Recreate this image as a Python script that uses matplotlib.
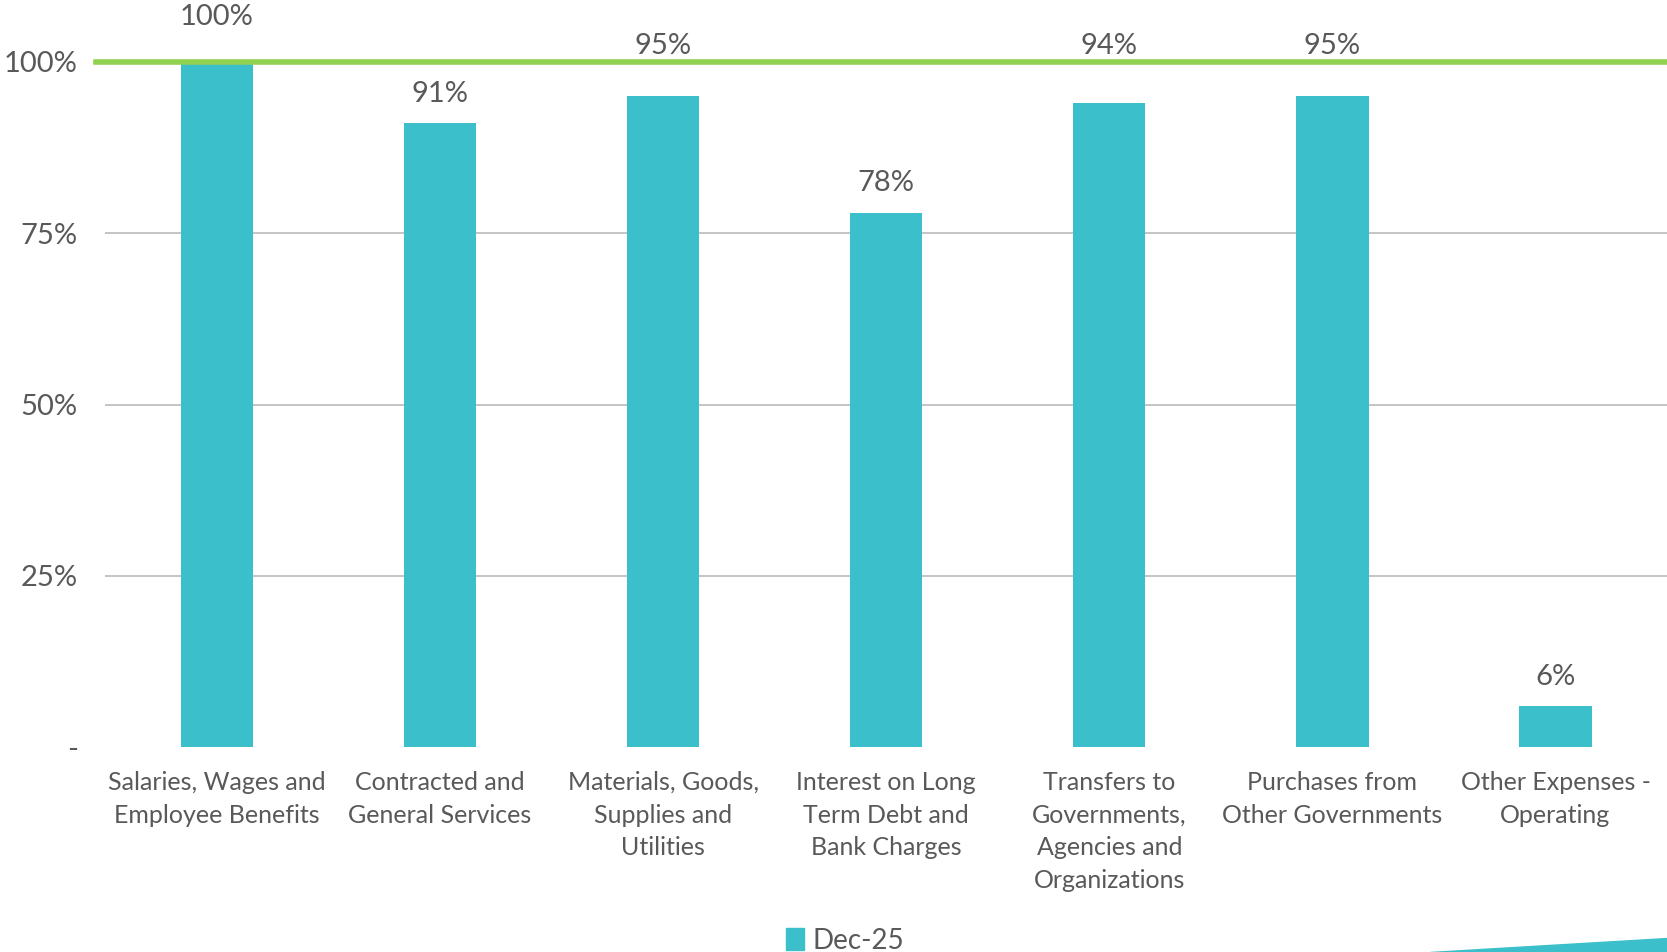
import matplotlib
matplotlib.use("Agg")
import matplotlib.pyplot as plt
from matplotlib.patches import Polygon, Patch

plt.rcParams['font.family'] = ['Lato', 'DejaVu Sans']

categories = ["Salaries, Wages and\nEmployee Benefits", "Contracted and\nGeneral Services",
              "Materials, Goods,\nSupplies and\nUtilities", "Interest on Long\nTerm Debt and\nBank Charges",
              "Transfers to\nGovernments,\nAgencies and\nOrganizations", "Purchases from\nOther Governments",
              "Other Expenses -\nOperating"]
values = [1.00, 0.91, 0.95, 0.78, 0.94, 0.95, 0.06]
series_name = "Dec-25"
target = 1.0
yticks = [0, 0.25, 0.5, 0.75, 1.0]
ytick_labels = ["-", "25%", "50%", "75%", "100%"]

TEAL = "#3BC0CB"
GREEN = "#92D050"
GRAY = "#595959"

fig = plt.figure(figsize=(16.67, 9.52), dpi=100)
ax = fig.add_axes([0.0632, 0.2149, 0.9368, 0.7203])

x = range(len(values))
ax.bar(x, values, width=0.324, color=TEAL, zorder=3)
ax.set_xlim(-0.5, len(values) - 0.5)
ax.set_ylim(0, 1.0)

ax.set_yticks(yticks)
ax.set_yticklabels(ytick_labels)
for t in [0.25, 0.5, 0.75]:
    ax.axhline(t, color="#BFBFBF", lw=1.3, zorder=1)
ax.axhline(target, xmin=-0.006, xmax=1, color=GREEN, lw=4, zorder=4, clip_on=False)

ax.set_xticks(list(x))
ax.set_xticklabels(categories, linespacing=1.5)
ax.tick_params(axis='both', length=0, labelcolor=GRAY)
ax.tick_params(axis='x', pad=17, labelsize=18)
ax.tick_params(axis='y', pad=20, labelsize=21)
for s in ax.spines.values():
    s.set_visible(False)

# data labels: bars touching the target line get their label lifted above it
for i, v in enumerate(values):
    if v >= target:
        y, off = target, 32
    elif v > target - 0.07:
        y, off = target, 11
    else:
        y, off = v, 21
    ax.annotate(f"{v:.0%}", (i, y), xytext=(0, off), textcoords="offset points",
                ha="center", va="center", fontsize=21, color=GRAY, annotation_clip=False)

fig.legend(handles=[Patch(color=TEAL, label=series_name)], loc="lower center",
           bbox_to_anchor=(0.507, -0.028), frameon=False, fontsize=20, labelcolor=GRAY,
           handlelength=0.65, handleheight=0.8, handletextpad=0.3)

# decorative sliver at bottom right
fig.patches.append(Polygon([(1430 / 1667, 0), (1, 0), (1, 14 / 952)], closed=True,
                           transform=fig.transFigure, color=TEAL, zorder=0))

fig.savefig("out.png", dpi=100, facecolor="white")
